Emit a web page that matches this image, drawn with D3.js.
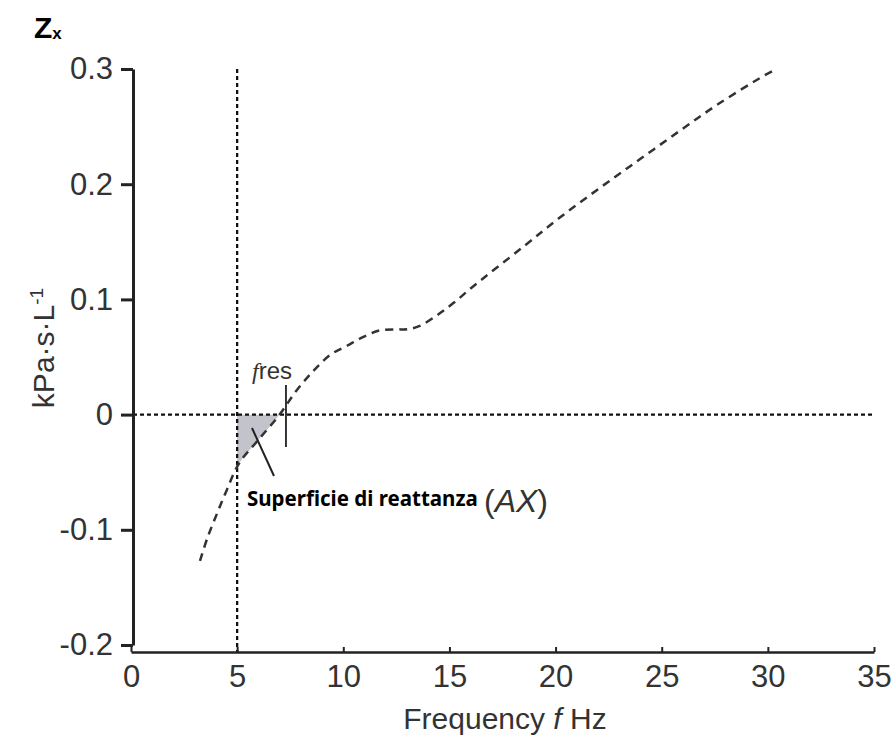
<!DOCTYPE html>
<html><head><meta charset="utf-8">
<script src="https://cdn.jsdelivr.net/npm/d3@7/dist/d3.min.js"></script>
<style>
body{margin:0;background:#fff;}
svg{display:block;}
.tick text{font-family:"Liberation Sans Narrow","Arial Narrow","Liberation Sans",sans-serif;}
</style></head>
<body>
<svg id="c" width="895" height="740"></svg>
<script>
// Data
const freq  = [3.25, 3.6, 4.05, 4.5, 5.1, 5.95, 7.0, 7.8, 8.6, 9.4, 10.2, 10.9, 11.7, 12.5, 13.0, 13.6, 14.4, 15.2, 16.1, 18.5, 20.2, 22.1, 24.0, 25.9, 27.7, 29.8, 30.3];
const react = [-0.127, -0.107, -0.086, -0.066, -0.042, -0.023, 0.0, 0.021, 0.038, 0.052, 0.060, 0.067, 0.073, 0.074, 0.074, 0.077, 0.086, 0.097, 0.111, 0.146, 0.171, 0.197, 0.222, 0.247, 0.270, 0.294, 0.299];
const xTicks = [0, 5, 10, 15, 20, 25, 30, 35];
const yTicks = [-0.2, -0.1, 0, 0.1, 0.2, 0.3];
const yTickLabels = ["-0.2", "-0.1", "0", "0.1", "0.2", "0.3"];
const fStart = 5;
const fZero = 7.0;
const fRes = 7.3;

const svg = d3.select("#c");
const x = d3.scaleLinear().domain([0, 35]).range([131, 874]);
const y = d3.scaleLinear().domain([-0.2, 0.3]).range([645, 69]);
const pts = freq.map((f, i) => [f, react[i]]);
const fontN = '"Liberation Sans Narrow","Arial Narrow","Liberation Sans",sans-serif';
const curve = d3.curveCatmullRom.alpha(0.5);

// shaded area (reactance area AX)
svg.append("clipPath").attr("id", "ax").append("rect")
  .attr("x", x(fStart)).attr("y", y(0))
  .attr("width", x(fZero) - x(fStart)).attr("height", y(-0.2) - y(0));
svg.append("path").datum(pts)
  .attr("clip-path", "url(#ax)")
  .attr("fill", "#c3c3cb")
  .attr("d", d3.area().x(d => x(d[0])).y0(y(0)).y1(d => y(d[1])).curve(curve));

// reference dotted lines
svg.append("line").attr("x1", x(0) + 2).attr("x2", x(35)).attr("y1", y(0)).attr("y2", y(0))
  .attr("stroke", "#111").attr("stroke-width", 2.3).attr("stroke-dasharray", "4,3");
svg.append("line").attr("x1", x(fStart)).attr("x2", x(fStart)).attr("y1", y(0.3)).attr("y2", 652)
  .attr("stroke", "#111").attr("stroke-width", 2.3).attr("stroke-dasharray", "4,3");

// curve
svg.append("path").datum(pts)
  .attr("fill", "none").attr("stroke", "#333").attr("stroke-width", 2.5)
  .attr("stroke-dasharray", "8,6")
  .attr("d", d3.line().x(d => x(d[0])).y(d => y(d[1])).curve(curve));

// y axis
const ya = svg.append("g").attr("transform", "translate(133,0)")
  .call(d3.axisLeft(y).tickValues(yTicks).tickFormat((d, i) => yTickLabels[i]).tickSize(12).tickSizeOuter(0).tickPadding(8));
ya.select(".domain").attr("stroke", "#222").attr("stroke-width", 3);
ya.selectAll(".tick line").attr("stroke", "#222").attr("stroke-width", 3);
ya.selectAll(".tick text").attr("fill", "#333").style("font-size", "31px");

// x axis
const xa = svg.append("g").attr("transform", "translate(0,652)")
  .call(d3.axisBottom(x).tickValues(xTicks).tickSize(-5).tickSizeOuter(0).tickPadding(10));
xa.select(".domain").attr("stroke", "#222").attr("stroke-width", 2.5);
xa.selectAll(".tick line").attr("stroke", "#222").attr("stroke-width", 2);
xa.selectAll(".tick text").attr("fill", "#333").style("font-size", "31px").attr("dy", "0.82em");

// axis titles
const xt = svg.append("text").attr("x", 505).attr("y", 729).attr("text-anchor", "middle")
  .attr("font-family", fontN).attr("font-size", 30).attr("fill", "#333");
xt.append("tspan").text("Frequency ");
xt.append("tspan").attr("font-style", "italic").text("f");
xt.append("tspan").text(" Hz");

const yt = svg.append("text").attr("transform", "translate(54,348) rotate(-90)").attr("text-anchor", "middle")
  .attr("font-family", fontN).attr("font-size", 30).attr("fill", "#333");
yt.append("tspan").text("kPa·s·L");
yt.append("tspan").attr("dy", -11).attr("font-size", 19).text("-1");

// Zx title
const zt = svg.append("text").attr("x", 34).attr("y", 38).attr("font-family", "Liberation Sans, Arial, sans-serif")
  .attr("font-weight", "bold").attr("fill", "#000");
zt.append("tspan").attr("font-size", 30).text("Z");
zt.append("tspan").attr("font-size", 17).attr("dy", 1).text("x");

// fres marker
svg.append("line").attr("x1", x(fRes)).attr("x2", x(fRes)).attr("y1", 385).attr("y2", 447)
  .attr("stroke", "#222").attr("stroke-width", 1.8);
const ft = svg.append("text").attr("x", 252).attr("y", 379).attr("font-family", fontN).attr("font-size", 24).attr("fill", "#333");
ft.append("tspan").attr("font-style", "italic").attr("font-family", "Liberation Serif, serif").text("f");
ft.append("tspan").text("res");

// AX annotation
svg.append("line").attr("x1", 252).attr("y1", 428).attr("x2", 274).attr("y2", 476)
  .attr("stroke", "#222").attr("stroke-width", 2);
svg.append("text").attr("x", 247).attr("y", 506).attr("font-family", "Noto Sans, Open Sans, sans-serif")
  .attr("font-weight", "bold").attr("font-size", 20.5).attr("fill", "#000").text("Superficie di reattanza");
const axT = svg.append("text").attr("x", 484).attr("y", 512).attr("font-family", fontN)
  .attr("font-size", 32).attr("fill", "#333");
axT.append("tspan").text("(");
axT.append("tspan").attr("font-style", "italic").text("AX");
axT.append("tspan").text(")");
</script>
</body></html>
